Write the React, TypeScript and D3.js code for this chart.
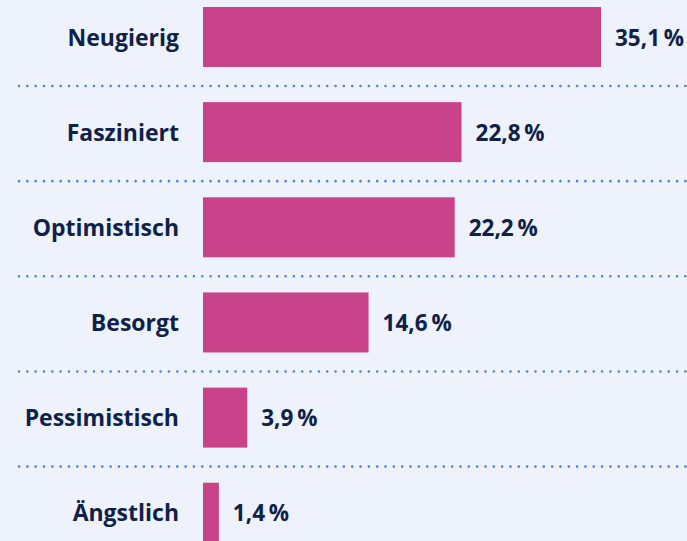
import React, { useEffect, useRef } from 'react';
import * as d3 from 'd3';

const categories = ['Neugierig', 'Fasziniert', 'Optimistisch', 'Besorgt', 'Pessimistisch', 'Ängstlich'];
const values = [35.1, 22.8, 22.2, 14.6, 3.9, 1.4];
const valueLabels = ['35,1 %', '22,8 %', '22,2 %', '14,6 %', '3,9 %', '1,4 %'];

const App = () => {
    const svgRef = useRef<SVGSVGElement>(null);

    useEffect(() => {
        document.body.style.margin = '0';
        const svg = d3.select(svgRef.current);
        svg.selectAll('*').remove();

        const width = 687;
        const height = 541;
        const barH = 60;
        const step = 95.15;

        svg.append('rect').attr('width', width).attr('height', height).attr('fill', '#eef2fd');

        const x = d3.scaleLinear().domain([0, 35.1]).range([203, 601]);
        const y = d3.scalePoint<string>().domain(categories).range([37, 37 + step * 5]);

        const rows = categories.map((c, i) => ({ c, v: values[i], label: valueLabels[i] }));

        // dotted separators
        svg.selectAll('line.sep')
            .data(rows.slice(0, -1))
            .enter().append('line')
            .attr('class', 'sep')
            .attr('x1', 19).attr('x2', width)
            .attr('y1', d => y(d.c)! + 49).attr('y2', d => y(d.c)! + 49)
            .attr('stroke', '#4a7fe6')
            .attr('stroke-width', 2.6)
            .attr('stroke-linecap', 'round')
            .attr('stroke-dasharray', '0 8.33');

        svg.selectAll('rect.bar')
            .data(rows)
            .enter().append('rect')
            .attr('class', 'bar')
            .attr('x', x(0))
            .attr('y', d => y(d.c)! - barH / 2)
            .attr('width', d => x(d.v) - x(0))
            .attr('height', barH)
            .attr('fill', '#c84389');

        const font = "'Open Sans', sans-serif";

        svg.selectAll('text.cat')
            .data(rows)
            .enter().append('text')
            .attr('class', 'cat')
            .attr('x', 179)
            .attr('y', d => y(d.c)! + 8.5)
            .attr('text-anchor', 'end')
            .attr('font-family', font)
            .attr('font-weight', 700)
            .attr('font-size', 23)
            .attr('fill', '#0e2148')
            .text(d => d.c);

        svg.selectAll('text.val')
            .data(rows)
            .enter().append('text')
            .attr('class', 'val')
            .attr('x', d => x(d.v) + 14)
            .attr('y', d => y(d.c)! + 8.5)
            .attr('font-family', font)
            .attr('font-weight', 700)
            .attr('font-size', 22.5)
            .attr('word-spacing', -2)
            .attr('fill', '#0e2148')
            .text(d => d.label);
    }, []);

    return <svg ref={svgRef} width={687} height={541} style={{ display: 'block' }}></svg>;
};

export default App;
